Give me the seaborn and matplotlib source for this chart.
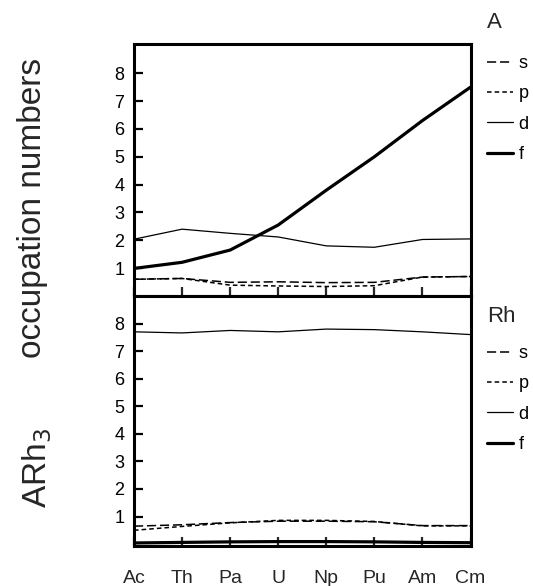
import numpy as np
import pandas as pd
import matplotlib
matplotlib.use("Agg")
import matplotlib.pyplot as plt
import seaborn as sns

sns.set_theme(style="white")
plt.rcParams['font.family'] = ['Liberation Sans', 'DejaVu Sans']

elements = ["Ac", "Th", "Pa", "U", "Np", "Pu", "Am", "Cm"]
orbitals = ["s", "p", "d", "f"]

# A-site occupation numbers
A_s = [0.60, 0.63, 0.49, 0.51, 0.48, 0.49, 0.68, 0.70]
A_p = [0.60, 0.63, 0.39, 0.36, 0.34, 0.37, 0.68, 0.70]
A_d = [2.04, 2.40, 2.25, 2.12, 1.80, 1.75, 2.03, 2.05]
A_f = [0.99, 1.21, 1.65, 2.55, 3.80, 5.00, 6.30, 7.50]

# Rh-site occupation numbers
Rh_s = [0.65, 0.70, 0.78, 0.83, 0.83, 0.81, 0.67, 0.67]
Rh_p = [0.50, 0.64, 0.77, 0.86, 0.86, 0.82, 0.66, 0.66]
Rh_d = [7.70, 7.66, 7.75, 7.70, 7.80, 7.78, 7.70, 7.60]
Rh_f = [0.04, 0.06, 0.08, 0.09, 0.09, 0.08, 0.06, 0.05]

panels = [("A", {"s": A_s, "p": A_p, "d": A_d, "f": A_f}),
          ("Rh", {"s": Rh_s, "p": Rh_p, "d": Rh_d, "f": Rh_f})]

styles = {
    "s": dict(lw=1.1, dashes=(6, 2.5)),
    "p": dict(lw=1.1, dashes=(3, 2)),
    "d": dict(lw=0.9, dashes=(None, None)),
    "f": dict(lw=2.3, dashes=(None, None)),
}

W, H = 533, 586
fig = plt.figure(figsize=(W / 100, H / 100), dpi=100)
left, right = 134 / W, 470.5 / W
top_t, mid, bot = 44, 296, 546
ax_top = fig.add_axes([left, 1 - mid / H, right - left, (mid - top_t) / H])
ax_bot = fig.add_axes([left, 1 - bot / H, right - left, (bot - mid) / H])

xpos = list(range(len(elements)))

for ax, (name, data) in zip([ax_top, ax_bot], panels):
    df = pd.DataFrame({"x": xpos})
    for orb in orbitals:
        df[orb] = data[orb]
    handles = []
    for orb in orbitals:
        st = styles[orb]
        sns.lineplot(data=df, x="x", y=orb, ax=ax, color="black",
                     linewidth=st["lw"], label=orb, legend=False)
        line = ax.lines[-1]
        if st["dashes"][0] is not None:
            line.set_dashes(st["dashes"])
        handles.append(line)
    ax.set_xlim(0, len(elements) - 1)
    ax.set_xlabel("")
    ax.set_ylabel("")
    ax.set_yticks(range(1, 9))
    ax.set_xticks(xpos)
    for sp in ax.spines.values():
        sp.set_linewidth(2.2)
        sp.set_color("black")
    ax.tick_params(axis="y", direction="in", length=6.5, width=1.6,
                   labelsize=13, pad=7, left=True, colors="black")
    ax.tick_params(axis="x", direction="in", length=6.5, width=1.6,
                   bottom=True, top=False, labelsize=14, pad=17)
    leg = ax.legend(handles=handles, labels=orbitals, loc="upper left",
                    bbox_to_anchor=(1.049, 0.956 if name == "A" else 0.804),
                    frameon=False, fontsize=13, handlelength=1.45,
                    handletextpad=0.3, labelspacing=0.74, borderaxespad=0,
                    borderpad=0)
    for t in leg.get_texts():
        t.set_color("black")

ax_top.set_ylim(0, 9.05)
ax_bot.set_ylim(-0.07, 9.0)
ax_top.set_xticklabels([])
ax_bot.set_xticklabels(elements)

fig.text(487 / W, 1 - 23 / H, "A", fontsize=16, ha="left", va="center")
fig.text(487 / W, 1 - 316 / H, "Rh", fontsize=16, ha="left", va="center")

fig.text(33 / W, 1 - 208 / H, "occupation numbers", fontsize=24,
         rotation=90, ha="center", va="center")
fig.text(37 / W, 1 - 468 / H, "ARh$_3$", fontsize=24,
         rotation=90, ha="center", va="center")

fig.savefig("out.png", dpi=100)
